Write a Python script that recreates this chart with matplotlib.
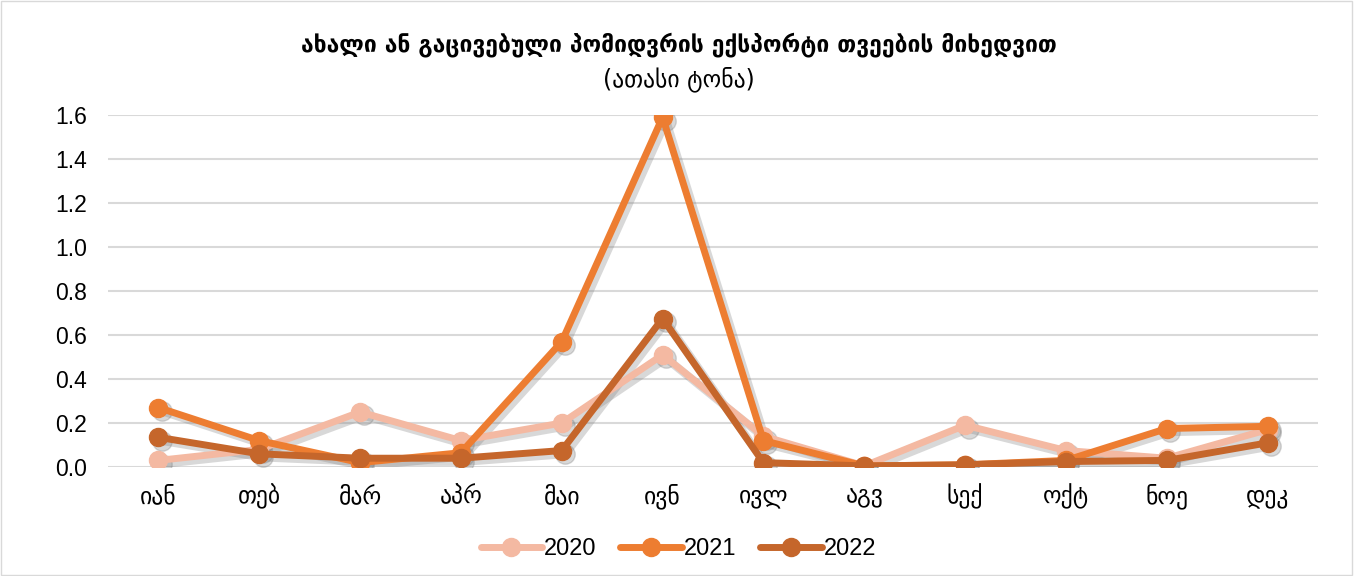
import matplotlib.pyplot as plt
from matplotlib.transforms import ScaledTranslation

plt.rcParams['font.family'] = ['Liberation Sans', 'DejaVu Sans']

months = ['იან', 'თებ', 'მარ', 'აპრ', 'მაი', 'ივნ', 'ივლ', 'აგვ', 'სექ', 'ოქტ', 'ნოე', 'დეკ']
v2020 = [0.03, 0.08, 0.25, 0.12, 0.20, 0.51, 0.14, 0.005, 0.19, 0.075, 0.04, 0.17]
v2021 = [0.27, 0.12, 0.02, 0.065, 0.57, 1.59, 0.12, 0.005, 0.01, 0.03, 0.175, 0.185]
v2022 = [0.135, 0.06, 0.04, 0.04, 0.075, 0.675, 0.02, 0.005, 0.01, 0.025, 0.03, 0.11]

colors = ['#F4B9A2', '#ED7D31', '#C5662B']
series = [('2020', v2020), ('2021', v2021), ('2022', v2022)]

fig = plt.figure(figsize=(13.57, 5.76), dpi=100)
ax = fig.add_axes([0.0796, 0.1892, 0.8917, 0.6111])

x = list(range(len(months)))
# soft drop shadow under each series
off = ax.transData + ScaledTranslation(2.5 / 72, -2.5 / 72, fig.dpi_scale_trans)
for name, vals in series:
    ax.plot(x, vals, color='#7f7f7f', alpha=0.3, lw=6, marker='o', ms=14,
            solid_capstyle='round', solid_joinstyle='round', transform=off, zorder=1)
for (name, vals), c in zip(series, colors):
    ax.plot(x, vals, color=c, lw=5, marker='o', ms=13, label=name,
            solid_capstyle='round', solid_joinstyle='round', zorder=2)

ax.set_xlim(-0.5, 11.5)
ax.set_ylim(0, 1.6)
ax.set_yticks([0, 0.2, 0.4, 0.6, 0.8, 1.0, 1.2, 1.4, 1.6])
ax.set_yticklabels(['0.0', '0.2', '0.4', '0.6', '0.8', '1.0', '1.2', '1.4', '1.6'])
ax.set_xticks(x)
ax.set_xticklabels(months, family=['DejaVu Sans'], fontsize=17)
ax.tick_params(axis='both', length=0, colors='black')
ax.tick_params(axis='y', labelsize=16.5, pad=15)
ax.tick_params(axis='x', pad=12)
ax.grid(axis='y', color='#D9D9D9', lw=1.5)
ax.set_axisbelow(True)
for s in ax.spines.values():
    s.set_visible(False)

fig.text(0.5, 0.923, 'ახალი ან გაცივებული პომიდვრის ექსპორტი თვეების მიხედვით',
         ha='center', va='center', fontsize=16.5, fontweight='bold', family=['DejaVu Sans'])
fig.text(0.5, 0.862, '(ათასი ტონა)', ha='center', va='center', fontsize=17,
         family=['DejaVu Sans'])

fig.legend(loc='center', bbox_to_anchor=(0.5, 0.047), ncol=3, frameon=False,
           fontsize=17, handlelength=2.6, handletextpad=0.1, columnspacing=1.0)

fig.patches.append(plt.Rectangle((0.001, 0.001), 0.995, 0.997, transform=fig.transFigure,
                                 fill=False, edgecolor='#D9D9D9', lw=1))

fig.savefig('out.png', dpi=100)
